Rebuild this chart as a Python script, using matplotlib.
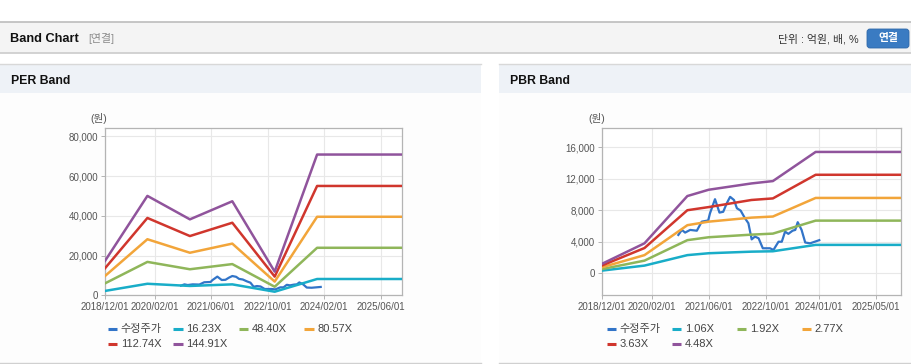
import numpy as np
import pandas as pd
import matplotlib
matplotlib.use("Agg")
import matplotlib.pyplot as plt
from matplotlib.patches import Rectangle, FancyBboxPatch
from matplotlib.ticker import FuncFormatter

plt.rcParams["font.family"] = ["Liberation Sans", "Noto Sans CJK KR", "DejaVu Sans"]

W, H = 912, 364

# ---- data (원) ----
SERIES_COLORS = ["#3274c8", "#19adc8", "#8fb65a", "#f2a53a", "#d0362d", "#90549c"]

price_dates = ["2020-09-15", "2020-10-15", "2020-11-12", "2020-12-25", "2021-02-20",
               "2021-04-03", "2021-05-28", "2021-06-12", "2021-07-25", "2021-09-01",
               "2021-10-03", "2021-11-03", "2021-12-01", "2022-01-03", "2022-01-28",
               "2022-03-01", "2022-04-06", "2022-05-06", "2022-06-03", "2022-07-01",
               "2022-08-01", "2022-09-06", "2022-11-06", "2022-12-06", "2023-01-18",
               "2023-02-15", "2023-03-15", "2023-04-12", "2023-05-18", "2023-06-10",
               "2023-07-01", "2023-08-03", "2023-09-03", "2023-10-15", "2024-01-01"]
price_vals = [4860, 5500, 5160, 5500, 5400, 6550, 6700, 7600, 9400, 7700,
              7800, 8900, 9700, 9300, 8250, 7950, 7000, 6350, 4300, 4650,
              4440, 3170, 3170, 2960, 4000, 4000, 5280, 5000, 5400, 5500,
              6480, 5500, 3900, 3800, 4200]

per_dates = ["2018-12-01", "2019-12-01", "2020-12-01", "2021-12-01",
             "2022-12-01", "2023-12-01", "2025-12-01"]
per_16_23 = [2200, 5800, 4700, 5500, 1800, 8200, 8200]
per_48_40 = [6000, 16800, 13100, 15700, 4300, 23900, 23900]
per_80_57 = [9700, 28200, 21400, 26000, 6900, 39500, 39500]
per_112_74 = [13600, 38900, 29800, 36500, 9400, 55000, 55000]
per_144_91 = [17300, 50000, 38200, 47300, 11900, 70800, 70800]
per_labels = ["수정주가", "16.23X", "48.40X", "80.57X", "112.74X", "144.91X"]
per_xticks = ["2018/12/01", "2020/02/01", "2021/06/01", "2022/10/01", "2024/02/01", "2025/06/01"]
per_yticks = [0, 20000, 40000, 60000, 80000]

pbr_dates = ["2018-12-01", "2019-12-01", "2020-12-01", "2021-06-01",
             "2022-06-01", "2022-12-01", "2023-12-01", "2025-12-01"]
pbr_1_06 = [330, 970, 2300, 2540, 2740, 2790, 3600, 3600]
pbr_1_92 = [520, 1600, 4200, 4570, 4900, 5030, 6680, 6680]
pbr_2_77 = [750, 2300, 6100, 6550, 7060, 7200, 9560, 9560]
pbr_3_63 = [970, 3200, 8000, 8400, 9300, 9500, 12500, 12500]
pbr_4_48 = [1180, 3800, 9800, 10600, 11400, 11700, 15400, 15400]
pbr_labels = ["수정주가", "1.06X", "1.92X", "2.77X", "3.63X", "4.48X"]
pbr_xticks = ["2018/12/01", "2020/02/01", "2021/06/01", "2022/10/01", "2024/01/01", "2025/05/01"]
pbr_yticks = [0, 4000, 8000, 12000, 16000]


def px_rect(x0, y0, x1, y1):
    return [x0 / W, 1 - y1 / H, (x1 - x0) / W, (y1 - y0) / H]


def draw_band(ax, band_dates, bands, xticks, yticks, ylim):
    ax.set_facecolor("white")
    ax.plot(pd.to_datetime(price_dates), price_vals, color=SERIES_COLORS[0], lw=1.6, zorder=3)
    bd = pd.to_datetime(band_dates)
    for vals, c in zip(bands, SERIES_COLORS[1:]):
        ax.plot(bd, vals, color=c, lw=1.8, zorder=3)
    ax.set_xlim(pd.Timestamp("2018-12-01"), pd.Timestamp("2025-12-01"))
    ax.set_ylim(*ylim)
    ax.set_xticks(pd.to_datetime(xticks))
    ax.set_xticklabels(xticks)
    ax.set_yticks(yticks)
    ax.yaxis.set_major_formatter(FuncFormatter(lambda v, _: f"{v:,.0f}"))
    ax.grid(True, color="#e8e8e8", lw=0.8, zorder=0)
    ax.set_axisbelow(True)
    for s in ax.spines.values():
        s.set_color("#b4b4b4")
        s.set_linewidth(0.9)
    ax.tick_params(length=3, width=0.7, color="#b4b4b4", labelsize=7,
                   labelcolor="#555555", pad=2)


def draw_legend(bg, x0, y_rows, labels, colors, col_step):
    for i, (lab, c) in enumerate(zip(labels, colors)):
        row, col = divmod(i, 4)
        x = x0 + col * col_step
        y = y_rows[row]
        bg.plot([x, x + 9.5], [y, y], color=c, lw=2.2, solid_capstyle="butt")
        bg.text(x + 13, y, lab, fontsize=8, color="#444444", va="center", ha="left")


fig = plt.figure(figsize=(W / 100, H / 100), dpi=100)
fig.patch.set_facecolor("white")

bg = fig.add_axes([0, 0, 1, 1])
bg.set_xlim(0, W)
bg.set_ylim(H, 0)
bg.axis("off")
bg.set_zorder(0)

# header bar
bg.add_patch(Rectangle((0, 22), W, 31, fc="#f4f4f4", ec="none"))
bg.plot([0, W], [22, 22], color="#bcbcbc", lw=1.2)
bg.plot([0, W], [53, 53], color="#d2d2d2", lw=1.4)
bg.text(10, 39, "Band Chart", fontsize=9.2, fontweight="bold", color="#111111", va="center")
bg.text(88, 39, "[연결]", fontsize=7.8, color="#8a8a8a", va="center")
bg.text(859, 39.5, "단위 : 억원, 배, %", fontsize=7.8, color="#333333", va="center", ha="right")
bg.add_patch(FancyBboxPatch((867, 29), 42, 19, boxstyle="round,pad=0,rounding_size=3",
                            fc="#3a7bc2", ec="#2f68a8", lw=0.6))
bg.text(888, 38.5, "연결", fontsize=7.8, fontweight="bold", color="white", va="center", ha="center")

# panels
for x0, x1, title in [(0, 481, "PER Band"), (499, W, "PBR Band")]:
    bg.add_patch(Rectangle((x0, 93), x1 - x0, 270, fc="#fdfdfd", ec="none"))
    bg.add_patch(Rectangle((x0, 64), x1 - x0, 29, fc="#eef2f7", ec="none"))
    bg.plot([x0, x1], [64, 64], color="#d8d8d8", lw=1.0)
    bg.plot([x0, x1], [363, 363], color="#d0d0d0", lw=1.0)
    bg.text(x0 + 11, 80.5, title, fontsize=8.8, fontweight="bold", color="#111111", va="center")

bg.text(99, 118.3, "(원)", fontsize=7.6, color="#555555", va="center", ha="center")
bg.text(596.7, 118.3, "(원)", fontsize=7.6, color="#555555", va="center", ha="center")

ax1 = fig.add_axes(px_rect(105, 128.3, 402, 295.3))
ax1.set_zorder(1)
draw_band(ax1, per_dates, [per_16_23, per_48_40, per_80_57, per_112_74, per_144_91],
          per_xticks, per_yticks, (0, 84000))

ax2 = fig.add_axes(px_rect(601.7, 128.3, 901.3, 295.3))
ax2.set_zorder(1)
draw_band(ax2, pbr_dates, [pbr_1_06, pbr_1_92, pbr_2_77, pbr_3_63, pbr_4_48],
          pbr_xticks, pbr_yticks, (-2800, 18400))

draw_legend(bg, 107.7, [329.3, 344], per_labels, SERIES_COLORS, 65.5)
draw_legend(bg, 606.7, [329.3, 344], pbr_labels, SERIES_COLORS, 65)

fig.savefig("out.png", dpi=100, facecolor=fig.get_facecolor())
